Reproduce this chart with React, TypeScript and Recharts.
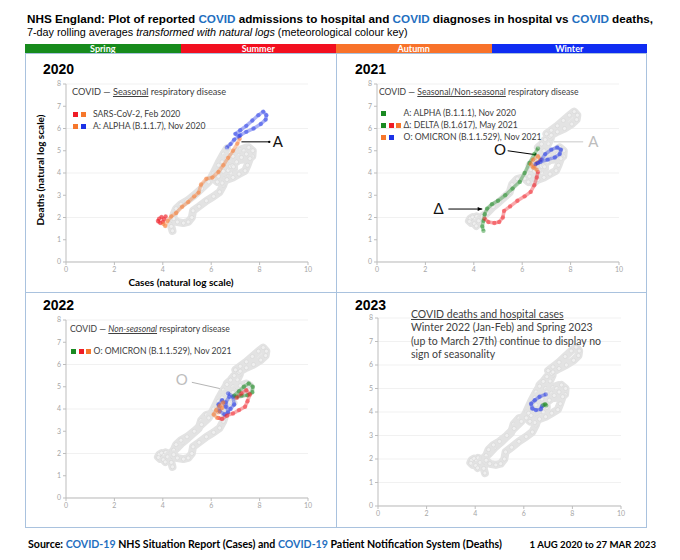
import { ScatterChart, Scatter, XAxis, YAxis, CartesianGrid, ReferenceLine, ReferenceDot } from 'recharts';

type Pt = [number, number];

// [cases, deaths] as natural logs of 7-day rolling averages
const summer2020: Pt[] = [[3.8, 1.85], [3.85, 1.95], [3.95, 2.02], [4.05, 1.92], [4.12, 2.05], [4.0, 1.8], [3.9, 1.75], [3.82, 1.82]];
const autumn2020: Pt[] = [[4.02, 1.72], [4.1, 1.62], [4.2, 1.85], [4.35, 2.05], [4.55, 2.2], [4.8, 2.48], [5.05, 2.7], [5.3, 2.95], [5.48, 3.12], [5.58, 3.48], [5.8, 3.74], [6.05, 3.8], [6.3, 4.05], [6.5, 4.35], [6.7, 4.68], [6.9, 5.0], [7.08, 5.32], [7.18, 5.55]];
const winter2020: Pt[] = [[7.15, 5.65], [7.0, 5.76], [7.2, 5.92], [7.45, 6.12], [7.7, 6.36], [7.95, 6.6], [8.15, 6.76], [8.28, 6.6], [8.25, 6.4], [8.05, 6.2], [7.75, 6.0], [7.45, 5.85], [7.2, 5.7], [6.95, 5.5], [6.8, 5.3], [6.65, 5.15]];
const spring2021: Pt[] = [[6.65, 5.1], [6.5, 4.85], [6.3, 4.45], [6.1, 4.0], [5.9, 3.6], [5.6, 3.3], [5.3, 3.0], [5.0, 2.75], [4.75, 2.6], [4.55, 2.4], [4.45, 2.15], [4.4, 1.85], [4.35, 1.6], [4.4, 1.4]];
const summer2021: Pt[] = [[4.45, 1.95], [4.6, 1.8], [4.85, 1.75], [5.05, 1.8], [5.2, 2.0], [5.25, 2.3], [5.5, 2.5], [5.8, 2.75], [6.1, 2.95], [6.35, 3.15], [6.5, 3.45], [6.6, 3.8], [6.65, 4.05]];
const autumn2021: Pt[] = [[6.6, 4.15], [6.45, 4.25], [6.35, 4.4], [6.45, 4.6], [6.65, 4.75], [6.75, 4.6], [6.6, 4.45], [6.5, 4.3]];
const winter2021: Pt[] = [[6.55, 4.4], [6.75, 4.5], [7.05, 4.6], [7.35, 4.7], [7.55, 4.85], [7.6, 5.05], [7.45, 5.15], [7.2, 5.05], [6.95, 4.85], [6.8, 4.6], [6.65, 4.45]];
const winter2022: Pt[] = [[6.7, 4.7], [6.9, 4.55], [6.95, 4.2], [6.8, 4.0], [6.6, 4.1], [6.45, 4.4], [6.3, 4.2], [6.35, 3.9], [6.55, 3.75], [6.7, 3.85], [6.6, 4.3], [6.75, 4.55]];
const spring2022: Pt[] = [[6.95, 4.6], [7.15, 4.8], [7.35, 5.0], [7.55, 5.15], [7.72, 5.0], [7.7, 4.75], [7.5, 4.62], [7.25, 4.6], [7.05, 4.55]];
const summer2022: Pt[] = [[7.05, 4.5], [7.25, 4.7], [7.45, 4.85], [7.6, 4.65], [7.5, 4.35], [7.4, 4.1], [7.15, 3.95], [6.9, 3.8], [6.65, 3.7], [6.45, 3.55], [6.3, 3.6]];
const autumn2022: Pt[] = [[6.25, 3.6], [6.1, 3.75], [6.2, 3.95], [6.35, 4.15], [6.5, 4.3], [6.45, 4.05], [6.3, 3.85]];
const winter2023: Pt[] = [[6.9, 4.75], [6.65, 4.65], [6.45, 4.5], [6.3, 4.35], [6.35, 4.15], [6.5, 4.08], [6.7, 4.12], [6.75, 4.25]];
const spring2023: Pt[] = [[6.8, 4.3], [6.88, 4.33], [6.92, 4.28]];

const xTicks = [0, 2, 4, 6, 8, 10];
const yTicks = [0, 1, 2, 3, 4, 5, 6, 7, 8];
const seasonNames = ['Spring', 'Summer', 'Autumn', 'Winter'];

const SEASON: Record<string, string> = {
  spring: '#1a8a22',
  summer: '#ef1c26',
  autumn: '#f6772c',
  winter: '#1c32e6',
};
const BAR = ['#178b1c', '#f20f1f', '#f8722a', '#0f2cf2'];
const BLUE_TXT = '#1f6fc0';

const segments = [
  { id: 'summer2020', pts: summer2020, season: 'summer' },
  { id: 'autumn2020', pts: autumn2020, season: 'autumn' },
  { id: 'winter2020', pts: winter2020, season: 'winter' },
  { id: 'spring2021', pts: spring2021, season: 'spring' },
  { id: 'summer2021', pts: summer2021, season: 'summer' },
  { id: 'autumn2021', pts: autumn2021, season: 'autumn' },
  { id: 'winter2021', pts: winter2021, season: 'winter' },
  { id: 'winter2022', pts: winter2022, season: 'winter' },
  { id: 'spring2022', pts: spring2022, season: 'spring' },
  { id: 'summer2022', pts: summer2022, season: 'summer' },
  { id: 'autumn2022', pts: autumn2022, season: 'autumn' },
  { id: 'winter2023', pts: winter2023, season: 'winter' },
  { id: 'spring2023', pts: spring2023, season: 'spring' },
];

const toXY = (pts: Pt[]) => pts.map(([x, y]) => ({ x, y }));

const greyDot = (p: any) => (
  <circle cx={p.cx} cy={p.cy} r={2} fill="#efefef" stroke="#d2d2d2" strokeWidth={0.5} />
);
const colorDot = (c: string) => (p: any) => <circle cx={p.cx} cy={p.cy} r={2.2} fill={c} fillOpacity={0.45} />;

const arrow = (color: string, head: boolean) => (p: any) => {
  const { x1, y1, x2, y2 } = p;
  const a = Math.atan2(y2 - y1, x2 - x1);
  const L = 5;
  const pts = `${x2},${y2} ${x2 - L * Math.cos(a - 0.4)},${y2 - L * Math.sin(a - 0.4)} ${x2 - L * Math.cos(a + 0.4)},${y2 - L * Math.sin(a + 0.4)}`;
  return (
    <g>
      <line x1={x1} y1={y1} x2={x2} y2={y2} stroke={color} strokeWidth={1} />
      {head ? <polygon points={pts} fill={color} /> : <circle cx={x2} cy={y2} r={1.2} fill={color} />}
    </g>
  );
};

const bigLabel = (value: string, fill: string) => ({
  value,
  position: 'center' as const,
  fill,
  fontSize: 15,
  fontFamily: 'Lato, sans-serif',
});

function Panel({ left, top, w, h, hi, children }: any) {
  const grey = segments.filter((s) => !hi.includes(s.id));
  const colored = segments.filter((s) => hi.includes(s.id));
  const tick = { fontSize: 7, fill: '#a6a6a6', fontFamily: 'Lato, sans-serif' };
  return (
    <div style={{ position: 'absolute', left: left - 36, top: top - 10 }}>
      <ScatterChart width={w + 48} height={h + 36} margin={{ top: 10, right: 12, left: 16, bottom: 10 }}>
        <CartesianGrid vertical={false} stroke="#f1f1f1" />
        <XAxis type="number" dataKey="x" domain={[0, 10]} ticks={xTicks} tick={tick} height={16}
          axisLine={{ stroke: '#bdbdbd' }} tickLine={{ stroke: '#bdbdbd' }} tickSize={3} />
        <YAxis type="number" dataKey="y" domain={[0, 8]} ticks={yTicks} tick={tick} width={20}
          axisLine={{ stroke: '#bdbdbd' }} tickLine={{ stroke: '#bdbdbd' }} tickSize={3} />
        {grey.map((s) => (
          <Scatter key={'g' + s.id} data={toXY(s.pts)} fill="#dedede"
            line={{ stroke: '#e3e3e3', strokeWidth: 8, strokeLinejoin: 'round', strokeLinecap: 'round' }}
            shape={greyDot} isAnimationActive={false} />
        ))}
        {colored.map((s) => (
          <Scatter key={'c' + s.id} data={toXY(s.pts)} fill={SEASON[s.season]}
            line={{ stroke: SEASON[s.season], strokeOpacity: 0.38, strokeWidth: 3.5, strokeLinejoin: 'round' }}
            shape={colorDot(SEASON[s.season])} isAnimationActive={false} />
        ))}
        {children}
      </ScatterChart>
    </div>
  );
}

const Sq = ({ c }: { c: string }) => (
  <span style={{ display: 'inline-block', width: 5, height: 5, background: c, marginRight: 2.5, verticalAlign: 'middle' }} />
);

const note: React.CSSProperties = {
  position: 'absolute',
  fontFamily: 'Lato, sans-serif',
  fontSize: 8.6,
  lineHeight: '10px',
  color: '#404040',
  whiteSpace: 'nowrap',
};

const year: React.CSSProperties = {
  position: 'absolute',
  fontFamily: '"Liberation Sans", Arial, sans-serif',
  fontWeight: 'bold',
  fontSize: 14,
  lineHeight: '14px',
};

const C = ({ children }: any) => <span style={{ color: BLUE_TXT }}>{children}</span>;

export default function App() {
  return (
    <div style={{ position: 'absolute', left: 0, top: 0, width: 680, height: 560, background: '#fff', fontFamily: 'Lato, sans-serif' }}>
      <div style={{ position: 'absolute', left: 27, top: 12, fontFamily: '"Liberation Sans", Arial, sans-serif', fontWeight: 'bold', fontSize: 11.7, whiteSpace: 'nowrap', lineHeight: '13px' }}>
        NHS England: Plot of reported <C>COVID</C> admissions to hospital and <C>COVID</C> diagnoses in hospital vs <C>COVID</C> deaths,
      </div>
      <div style={{ position: 'absolute', left: 27, top: 26, fontFamily: '"Liberation Sans", Arial, sans-serif', fontSize: 10.8, whiteSpace: 'nowrap', lineHeight: '12px' }}>
        7-day rolling averages <i>transformed with natural logs</i> (meteorological colour key)
      </div>

      <div style={{ position: 'absolute', left: 25, top: 44, width: 622, height: 9, display: 'flex' }}>
        {seasonNames.map((s, i) => (
          <div key={s} style={{ flex: 1, background: BAR[i], color: '#fff', fontWeight: 'bold', fontSize: 9, lineHeight: '9px', textAlign: 'center' }}>{s}</div>
        ))}
      </div>
      <div style={{ position: 'absolute', left: 25, top: 53, width: 620, height: 473, border: '1px solid #a9c2de' }} />
      <div style={{ position: 'absolute', left: 336, top: 53, width: 1, height: 474, background: '#a9c2de' }} />
      <div style={{ position: 'absolute', left: 25, top: 292, width: 622, height: 1, background: '#a9c2de' }} />

      {/* 2020 */}
      <Panel left={66} top={84} w={242} h={178} hi={['summer2020', 'autumn2020', 'winter2020']}>
        <ReferenceLine segment={[{ x: 7.25, y: 5.4 }, { x: 8.4, y: 5.4 }]} shape={arrow('#000', false)} />
        <ReferenceDot x={8.75} y={5.4} r={0} label={bigLabel('A', '#111')} />
      </Panel>
      <div style={{ ...year, left: 43, top: 62 }}>2020</div>
      <div style={{ ...note, left: 72, top: 87, fontSize: 9.2 }}>COVID — <u>Seasonal</u> respiratory disease</div>
      <div style={{ ...note, left: 73, top: 109 }}><Sq c={SEASON.summer} /><Sq c={SEASON.autumn} /><span style={{ marginLeft: 5 }}>SARS-CoV-2, Feb 2020</span></div>
      <div style={{ ...note, left: 73, top: 121 }}><Sq c={SEASON.autumn} /><Sq c={SEASON.winter} /><span style={{ marginLeft: 5 }}>A: ALPHA (B.1.1.7), Nov 2020</span></div>
      <div style={{ position: 'absolute', left: 40, top: 170, transform: 'translate(-50%,-50%) rotate(-90deg)', fontWeight: 'bold', fontSize: 10, whiteSpace: 'nowrap' }}>Deaths (natural log scale)</div>
      <div style={{ position: 'absolute', left: 181, top: 282, transform: 'translate(-50%,-50%)', fontWeight: 'bold', fontSize: 10, whiteSpace: 'nowrap' }}>Cases (natural log scale)</div>

      {/* 2021 */}
      <Panel left={377} top={84} w={242} h={178} hi={['spring2021', 'summer2021', 'autumn2021', 'winter2021']}>
        <ReferenceLine segment={[{ x: 7.3, y: 5.4 }, { x: 8.52, y: 5.4 }]} stroke="#c8c8c8" />
        <ReferenceDot x={8.94} y={5.4} r={0} label={bigLabel('A', '#bdbdbd')} />
        <ReferenceLine segment={[{ x: 5.4, y: 5.0 }, { x: 6.7, y: 4.8 }]} shape={arrow('#000', true)} />
        <ReferenceDot x={5.08} y={5.03} r={0} label={bigLabel('O', '#111')} />
        <ReferenceLine segment={[{ x: 2.95, y: 2.38 }, { x: 4.35, y: 2.38 }]} shape={arrow('#000', true)} />
        <ReferenceDot x={2.55} y={2.38} r={0} label={bigLabel('Δ', '#111')} />
      </Panel>
      <div style={{ ...year, left: 355, top: 62 }}>2021</div>
      <div style={{ ...note, left: 379, top: 87 }}>COVID — <u>Seasonal/Non-seasonal</u> respiratory disease</div>
      <div style={{ ...note, left: 381, top: 108 }}><Sq c={SEASON.spring} /><span style={{ marginLeft: 15 }}>A: ALPHA (B.1.1.1), Nov 2020</span></div>
      <div style={{ ...note, left: 381, top: 120 }}><Sq c={SEASON.spring} /><Sq c={SEASON.summer} /><Sq c={SEASON.autumn} /><span style={{ marginLeft: 0 }}>Δ: DELTA (B.1.617), May 2021</span></div>
      <div style={{ ...note, left: 381, top: 132 }}><Sq c={SEASON.autumn} /><Sq c={SEASON.winter} /><span style={{ marginLeft: 7.5 }}>O: OMICRON (B.1.1.529), Nov 2021</span></div>

      {/* 2022 */}
      <Panel left={66} top={320} w={242} h={178} hi={['winter2022', 'spring2022', 'summer2022', 'autumn2022']}>
        <ReferenceLine segment={[{ x: 5.2, y: 5.2 }, { x: 6.64, y: 4.85 }]} stroke="#b5b5b5" />
        <ReferenceDot x={4.78} y={5.3} r={0} label={bigLabel('O', '#bdbdbd')} />
      </Panel>
      <div style={{ ...year, left: 43, top: 298 }}>2022</div>
      <div style={{ ...note, left: 70, top: 324 }}>COVID — <i><u>Non-seasonal</u></i> respiratory disease</div>
      <div style={{ ...note, left: 71, top: 346 }}><Sq c={SEASON.spring} /><Sq c={SEASON.summer} /><Sq c={SEASON.autumn} />O: OMICRON (B.1.1.529), Nov 2021</div>

      {/* 2023 */}
      <Panel left={378} top={318} w={243} h={188} hi={['winter2023', 'spring2023']} />
      <div style={{ ...year, left: 355, top: 298 }}>2023</div>
      <div style={{ ...note, left: 411, top: 308, fontSize: 10.5, lineHeight: '13.3px' }}>
        <u>COVID deaths and hospital cases</u><br />
        Winter 2022 (Jan-Feb) and Spring 2023<br />
        (up to March 27th) continue to display no<br />
        sign of seasonality
      </div>

      <div style={{ position: 'absolute', left: 28, top: 538, fontWeight: 'bold', fontSize: 10.6, whiteSpace: 'nowrap', lineHeight: '13px' }}>
        Source: <C>COVID-19</C> NHS Situation Report (Cases) and <C>COVID-19</C> Patient Notification System (Deaths)
      </div>
      <div style={{ position: 'absolute', right: 680 - 656, top: 538, fontWeight: 'bold', fontSize: 9.6, whiteSpace: 'nowrap', lineHeight: '13px' }}>
        1 AUG 2020 to 27 MAR 2023
      </div>
    </div>
  );
}
